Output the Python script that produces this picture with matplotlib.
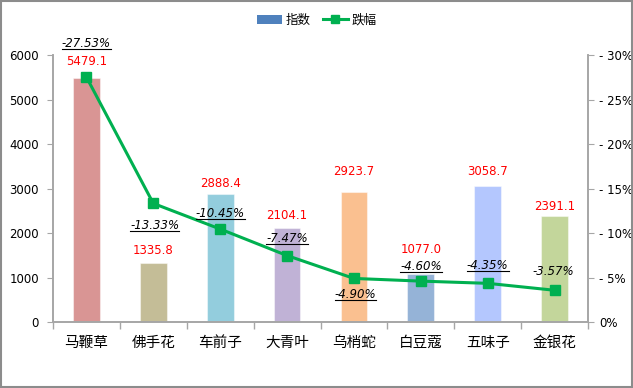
import numpy as np
import matplotlib.pyplot as plt
from matplotlib.lines import Line2D
from matplotlib.patches import Patch, Rectangle
from matplotlib.ticker import FuncFormatter, FixedLocator

plt.rcParams['font.family'] = ['DejaVu Sans', 'Noto Sans CJK SC']

# data
herbs = ['马鞭草', '佛手花', '车前子', '大青叶', '乌梢蛇', '白豆蔻', '五味子', '金银花']
index_vals = [5479.1, 1335.8, 2888.4, 2104.1, 2923.7, 1077.0, 3058.7, 2391.1]
drop_pct = [-27.53, -13.33, -10.45, -7.47, -4.90, -4.60, -4.35, -3.57]

bar_colors = ['#D99594', '#C4BD97', '#93CDDD', '#C0B2D6',
              '#FAC090', '#95B3D7', '#B4C7FE', '#C3D69B']
green = '#00B050'

# label offsets in points (hand placed like the original)
bar_lab_dy = [12, 9, 7.2, 9.4, 14.4, 17.5, 10.6, 6.5]
pct_lab_dy = [24.5, -16, 11.5, 12, -11.5, 10.8, 13, 13.7]
pct_lab_dx = [0, 1, 0, 0, 1, 0, 0, -1]
pct_underline = [True, True, True, True, True, True, True, False]

fig = plt.figure(figsize=(6.33, 3.88), dpi=100)
ax = fig.add_axes([0.0837, 0.170, 0.8453, 0.688])
ax2 = ax.twinx()

x = np.arange(len(herbs))
ax.bar(x, index_vals, width=0.4, color=bar_colors, linewidth=0.8, zorder=2)
for b in ax.patches:
    b.set_edgecolor((1, 1, 1, 0.45))

ax.set_xlim(-0.5, len(herbs) - 0.5)
ax.set_ylim(0, 6000)
ax.set_yticks(np.arange(0, 6001, 1000))
ax.set_xticks(x)
ax.set_xticklabels(herbs, fontsize=10.5)
ax.xaxis.set_minor_locator(FixedLocator(np.arange(-0.5, len(herbs), 1.0)))
ax.tick_params(axis='x', which='major', length=0, pad=9)
ax.tick_params(axis='x', which='minor', length=5, color='#A6A6A6', width=1)
ax.tick_params(axis='y', length=4, color='#A6A6A6', labelsize=8.5, pad=6)

ax2.plot(x, drop_pct, color=green, lw=2.2, marker='s', ms=7, zorder=3)
ax2.set_ylim(0, -30)
ax2.set_yticks(np.arange(0, -31, -5))
ax2.yaxis.set_major_formatter(FuncFormatter(
    lambda v, p: '0%' if v == 0 else '- %d%%' % abs(v)))
ax2.tick_params(axis='y', length=4, color='#A6A6A6', labelsize=8.5, pad=4)

for a in (ax, ax2):
    a.spines['top'].set_visible(False)
    for s in ('left', 'right', 'bottom'):
        a.spines[s].set_color('#A6A6A6')
        a.spines[s].set_linewidth(1.2)

ax.set_zorder(ax2.get_zorder() - 1)
ax2.patch.set_visible(False)

for i, v in enumerate(index_vals):
    ax.annotate('%.1f' % v, (x[i], v), xytext=(0, bar_lab_dy[i]),
                textcoords='offset points', ha='center', va='center',
                color='red', fontsize=8.5)

pct_texts = []
for i, v in enumerate(drop_pct):
    t = ax2.annotate('%.2f%%' % v, (x[i], v), xytext=(pct_lab_dx[i], pct_lab_dy[i]),
                     textcoords='offset points', ha='center', va='center',
                     fontsize=8.5, style='italic', color='black', zorder=5)
    pct_texts.append(t)

handles = [Patch(facecolor='#4F81BD', edgecolor='none'),
           Line2D([], [], color=green, lw=2.2, marker='s', ms=6)]
fig.legend(handles, ['指数', '跌幅'], loc='center', bbox_to_anchor=(0.5, 0.948),
           ncol=2, frameon=False, fontsize=9, handlelength=2.0,
           handletextpad=0.3, columnspacing=1.0)

# underline the percentage labels
fig.canvas.draw()
renderer = fig.canvas.get_renderer()
inv = fig.transFigure.inverted()
for t, u in zip(pct_texts, pct_underline):
    if not u:
        continue
    bb = t.get_window_extent(renderer)
    (x0, y0), (x1, y1) = inv.transform([(bb.x0, bb.y0 + 1), (bb.x1, bb.y0 + 1)])
    fig.add_artist(Line2D([x0, x1], [y0, y1], transform=fig.transFigure,
                          color='black', lw=0.8))

fig.add_artist(Rectangle((0.001, 0.002), 0.997, 0.995, transform=fig.transFigure,
                         fill=False, edgecolor='#8C8C8C', lw=1.5))

fig.savefig('out.png', dpi=100)
